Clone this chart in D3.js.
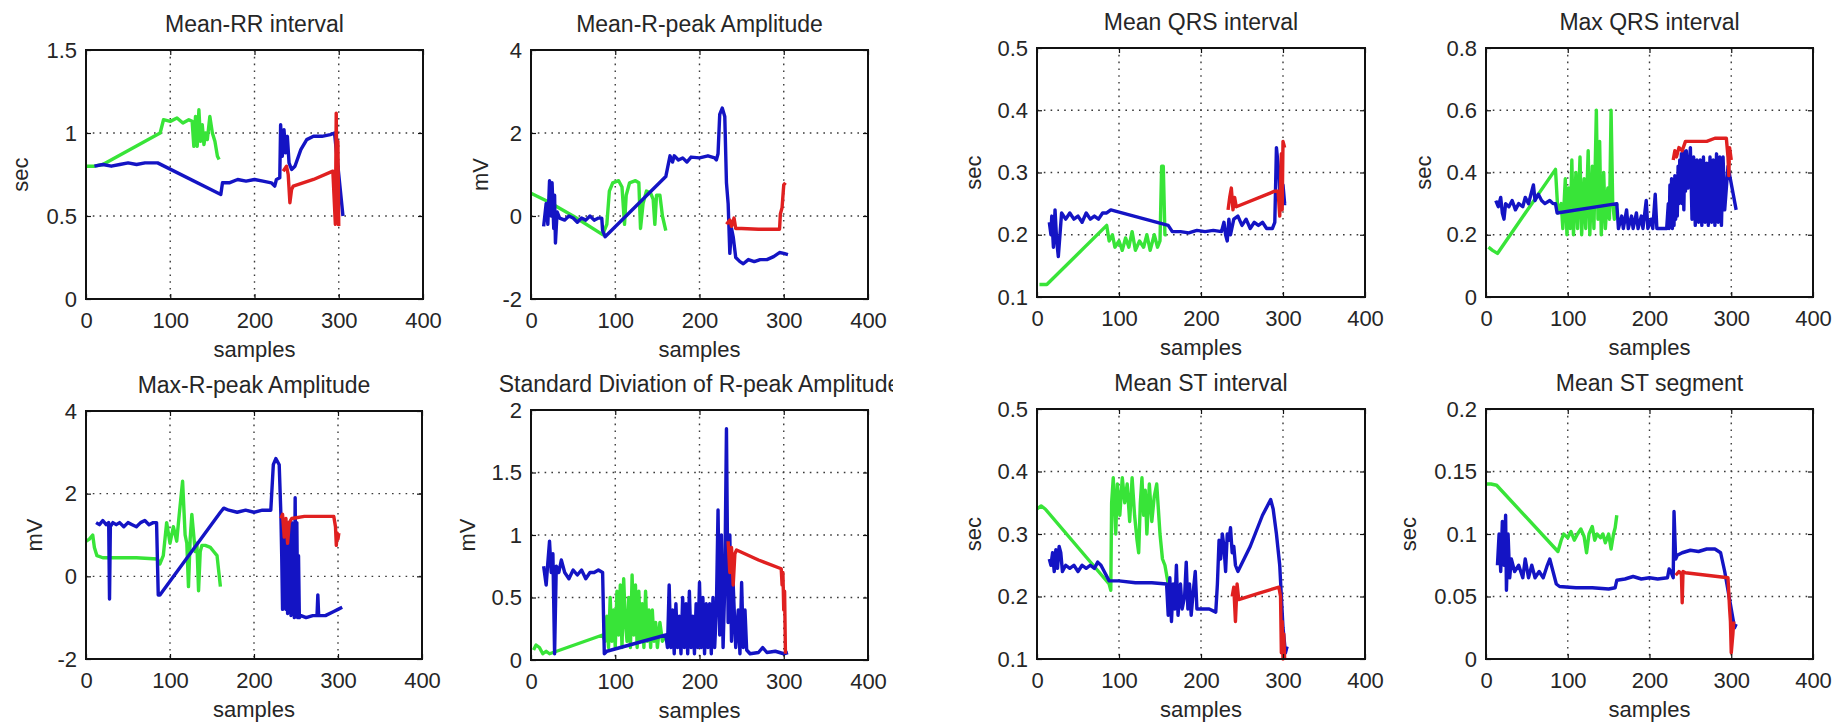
<!DOCTYPE html>
<html lang="en">
<head>
<meta charset="UTF-8">
<script src="https://d3js.org/d3.v7.min.js"></script>
<title>ECG features</title>
<style>
    body { margin: 0; background: #fff; }
    svg text { font-family: Arial, "Liberation Sans", sans-serif; fill: #262626; }
    .frame { fill: none; stroke: #111; stroke-width: 2; }
    .grid line { stroke: #3a3a3a; stroke-width: 1.4; stroke-dasharray: 1.6, 5.2; }
    .series { fill: none; stroke-width: 3.4; stroke-linejoin: round; }
    .tick line { stroke: #111; stroke-width: 1.2; }
</style>
</head>
<body>
<svg id="chart" width="1841" height="722"></svg>
<script>
// x axis is the same everywhere
var xTicks = [0, 100, 200, 300, 400];

// ---- Mean-RR interval (sec)
var rrTicks = [0, 0.5, 1, 1.5];
var rrGreen = [[0,0.80],[10,0.80],[20,0.81],[88,1.0],[92,1.08],[100,1.07],[108,1.09],[115,1.06],[122,1.08],[126,1.07],[128,0.92],[130,1.10],[132,0.92],[134,1.14],[136,0.95],[138,1.05],[140,0.93],[142,1.0],[144,0.96],[147,1.10],[150,1.0],[153,0.95],[156,0.86],[158,0.84]];
var rrBlue = [[10,0.80],[20,0.81],[30,0.80],[40,0.81],[50,0.82],[60,0.81],[70,0.82],[85,0.82],[160,0.63],[162,0.70],[170,0.70],[180,0.72],[190,0.71],[200,0.72],[210,0.71],[220,0.70],[224,0.68],[226,0.72],[230,0.73],[231,1.05],[233,0.86],[235,1.02],[237,0.88],[239,0.98],[241,0.82],[244,0.78],[248,0.80],[255,0.90],[262,0.96],[270,0.98],[280,0.98],[290,0.99],[295,1.0],[300,0.75],[305,0.5]];
var rrRed = [[234,0.77],[238,0.80],[240,0.75],[242,0.58],[244,0.66],[246,0.68],[270,0.72],[293,0.77],[296,0.45],[297,1.12],[298,0.6],[299,0.95],[300,0.44]];

// ---- Mean-R-peak Amplitude (mV)
var ampTicks = [-2, 0, 2, 4];
var meanAmpGreen = [[0,0.55],[20,0.35],[50,0.0],[85,-0.45],[90,-0.2],[93,0.6],[97,0.8],[104,0.85],[108,0.7],[111,-0.2],[113,0.5],[117,0.8],[124,0.85],[128,0.8],[130,-0.3],[133,0.3],[137,0.6],[142,0.55],[145,0.4],[147,-0.2],[149,0.5],[153,0.5],[156,0.0],[160,-0.35]];
var meanAmpBlue = [[15,-0.25],[18,0.3],[20,-0.2],[22,0.85],[24,0.0],[25,0.8],[27,-0.3],[28,0.5],[29,-0.65],[31,0.1],[34,-0.05],[40,-0.1],[45,0.0],[50,-0.05],[55,-0.15],[60,-0.05],[65,-0.1],[70,0.0],[75,-0.1],[80,-0.05],[84,-0.05],[85,-0.35],[88,-0.5],[160,0.95],[163,1.25],[165,1.45],[168,1.30],[170,1.45],[175,1.35],[180,1.40],[185,1.30],[190,1.42],[200,1.40],[210,1.45],[218,1.40],[220,1.35],[222,1.50],[224,2.45],[227,2.6],[230,2.4],[232,0.8],[234,0.3],[236,-0.9],[238,-0.3],[240,-0.5],[243,-1.0],[248,-1.1],[252,-1.15],[258,-1.05],[265,-1.10],[272,-1.05],[280,-1.05],[288,-0.98],[295,-0.88],[300,-0.90],[305,-0.93]];
var meanAmpRed = [[232,-0.2],[236,-0.1],[238,-0.25],[241,-0.05],[243,-0.3],[250,-0.3],[270,-0.32],[290,-0.32],[295,-0.32],[296,0.05],[298,0.2],[300,0.75],[302,0.8]];

// ---- Mean QRS interval (sec)
var qrsTicks = [0.1, 0.2, 0.3, 0.4, 0.5];
var qrsGreen = [[3,0.12],[8,0.12],[12,0.12],[85,0.215],[88,0.19],[92,0.2],[95,0.18],[100,0.19],[104,0.175],[108,0.195],[112,0.18],[116,0.205],[120,0.175],[125,0.19],[130,0.18],[134,0.2],[138,0.175],[143,0.2],[147,0.18],[150,0.19],[152,0.31],[154,0.31],[156,0.2],[158,0.2]];
var qrsBlue = [[15,0.22],[17,0.2],[18,0.23],[20,0.18],[22,0.24],[24,0.19],[26,0.165],[28,0.2],[30,0.235],[35,0.225],[40,0.235],[45,0.225],[50,0.23],[55,0.22],[60,0.235],[65,0.225],[70,0.23],[75,0.225],[80,0.235],[85,0.235],[90,0.24],[160,0.215],[165,0.205],[175,0.205],[185,0.203],[195,0.207],[205,0.205],[215,0.207],[225,0.205],[228,0.22],[230,0.2],[232,0.19],[234,0.225],[236,0.2],[240,0.225],[245,0.23],[250,0.215],[255,0.225],[260,0.21],[265,0.22],[270,0.215],[275,0.22],[280,0.21],[287,0.21],[290,0.22],[292,0.34],[295,0.3],[297,0.24],[300,0.28],[302,0.25],[304,0.25]];
var qrsRed = [[233,0.24],[235,0.26],[237,0.275],[239,0.24],[241,0.26],[243,0.245],[290,0.27],[294,0.27],[296,0.23],[298,0.33],[299,0.24],[300,0.35],[302,0.34]];

// ---- Max QRS interval (sec)
var qrsMaxTicks = [0, 0.2, 0.4, 0.6, 0.8];
var qrsMaxGreen = [[3,0.16],[8,0.15],[14,0.14],[85,0.41],[88,0.27],[92,0.3],[94,0.22],[97,0.38],[99,0.2],[101,0.35],[103,0.22],[105,0.44],[107,0.2],[110,0.4],[112,0.22],[115,0.45],[117,0.2],[120,0.38],[122,0.22],[125,0.47],[127,0.2],[130,0.42],[132,0.22],[135,0.6],[137,0.25],[139,0.5],[141,0.2],[144,0.4],[146,0.22],[149,0.35],[151,0.25],[153,0.6],[155,0.3],[157,0.25],[160,0.3]];
var qrsMaxBlue = [[12,0.31],[15,0.29],[18,0.32],[20,0.27],[22,0.25],[24,0.3],[28,0.29],[32,0.31],[36,0.28],[40,0.3],[45,0.29],[48,0.32],[52,0.3],[55,0.33],[58,0.36],[60,0.31],[64,0.33],[68,0.31],[72,0.3],[78,0.31],[82,0.3],[85,0.3],[87,0.27],[160,0.3],[162,0.22],[166,0.26],[168,0.22],[172,0.28],[174,0.22],[178,0.26],[180,0.22],[184,0.27],[186,0.22],[190,0.26],[192,0.22],[196,0.31],[198,0.22],[202,0.25],[204,0.22],[207,0.33],[209,0.22],[215,0.22],[221,0.22],[223,0.3],[224,0.22],[225,0.36],[226,0.24],[227,0.38],[228,0.22],[229,0.37],[230,0.23],[231,0.39],[232,0.25],[233,0.38],[234,0.26],[235,0.42],[236,0.3],[237,0.44],[238,0.33],[239,0.46],[240,0.3],[241,0.47],[242,0.28],[243,0.44],[244,0.34],[245,0.47],[247,0.35],[250,0.48],[252,0.25],[254,0.45],[256,0.23],[258,0.44],[260,0.24],[262,0.44],[264,0.23],[266,0.45],[268,0.24],[270,0.43],[272,0.23],[274,0.45],[276,0.24],[278,0.44],[280,0.23],[282,0.46],[284,0.24],[286,0.45],[288,0.23],[290,0.45],[292,0.28],[296,0.42],[306,0.28]];
var qrsMaxRed = [[229,0.44],[231,0.47],[233,0.45],[236,0.48],[240,0.47],[244,0.5],[250,0.5],[260,0.5],[270,0.5],[280,0.51],[290,0.51],[294,0.51],[296,0.45],[297,0.39],[298,0.48],[300,0.44]];

// ---- Max-R-peak Amplitude (mV)
var maxAmpGreen = [[0,0.85],[4,0.9],[8,1.0],[10,0.7],[13,0.5],[20,0.45],[40,0.45],[60,0.45],[85,0.42],[88,0.3],[92,0.5],[96,1.3],[100,0.8],[104,1.2],[108,0.85],[111,1.5],[115,2.3],[118,1.0],[120,0.8],[122,-0.25],[124,0.9],[126,1.5],[130,0.6],[132,0.8],[134,-0.35],[136,0.6],[138,0.75],[142,0.75],[148,0.7],[152,0.6],[156,0.5],[160,-0.25]];
var maxAmpBlue = [[12,1.3],[16,1.25],[20,1.35],[24,1.25],[27,1.3],[28,-0.55],[29,1.2],[32,1.3],[36,1.25],[40,1.3],[45,1.2],[50,1.3],[55,1.25],[60,1.2],[65,1.3],[70,1.35],[75,1.25],[80,1.3],[84,1.3],[86,-0.45],[88,-0.45],[160,1.55],[164,1.65],[170,1.6],[180,1.55],[190,1.6],[200,1.55],[210,1.6],[220,1.6],[223,2.7],[226,2.85],[230,2.7],[232,1.5],[233,0.5],[234,-0.8],[235,1.3],[236,-0.6],[237,1.2],[238,-0.8],[239,1.0],[240,-0.9],[241,1.3],[242,-0.7],[243,1.1],[244,-0.95],[245,1.3],[246,-0.9],[247,1.0],[248,-1.0],[249,1.9],[250,-0.9],[251,1.3],[252,-1.0],[253,0.5],[254,-1.0],[256,-0.95],[262,-1.0],[270,-0.95],[275,-0.95],[276,-0.45],[277,-0.95],[285,-0.95],[295,-0.85],[300,-0.8],[305,-0.75]];
var maxAmpRed = [[232,1.4],[234,1.5],[236,0.95],[238,1.4],[240,0.8],[242,1.3],[245,1.4],[260,1.45],[280,1.45],[295,1.45],[297,1.2],[298,0.75],[299,1.05],[300,0.9],[301,1.05]];

// ---- Standard deviation of R-peak Amplitude (mV)
var sdTicks = [0, 0.5, 1, 1.5, 2];
var sdGreen = [[3,0.08],[6,0.12],[10,0.1],[14,0.05],[18,0.07],[22,0.05],[85,0.2],[88,0.15],[90,0.35],[92,0.1],[94,0.5],[96,0.15],[98,0.4],[100,0.1],[102,0.55],[104,0.2],[106,0.6],[108,0.1],[110,0.65],[112,0.3],[114,0.15],[116,0.5],[118,0.1],[120,0.68],[122,0.2],[124,0.6],[126,0.1],[128,0.55],[130,0.15],[132,0.45],[134,0.1],[136,0.55],[138,0.15],[140,0.4],[142,0.1],[144,0.4],[146,0.15],[148,0.3],[150,0.1],[153,0.3],[156,0.15],[160,0.2]];
var sdBlue = [[15,0.75],[18,0.6],[20,0.78],[22,0.95],[24,0.7],[26,0.85],[28,0.05],[30,0.75],[33,0.7],[36,0.8],[40,0.7],[45,0.65],[50,0.72],[55,0.68],[60,0.72],[65,0.65],[70,0.7],[75,0.7],[80,0.72],[85,0.7],[87,0.05],[90,0.07],[160,0.2],[162,0.1],[164,0.6],[166,0.1],[168,0.4],[170,0.05],[172,0.45],[174,0.1],[176,0.35],[178,0.05],[180,0.5],[182,0.1],[184,0.45],[186,0.05],[188,0.55],[190,0.1],[192,0.35],[194,0.05],[196,0.45],[198,0.1],[200,0.62],[202,0.1],[204,0.5],[206,0.05],[208,0.45],[210,0.1],[212,0.45],[214,0.05],[216,0.5],[218,0.1],[220,0.4],[222,1.2],[224,0.2],[226,1.0],[228,0.1],[230,0.6],[232,1.85],[234,0.3],[236,1.0],[238,0.15],[240,0.6],[243,0.1],[246,0.4],[248,0.05],[250,0.62],[252,0.1],[254,0.4],[256,0.08],[260,0.05],[270,0.06],[275,0.1],[280,0.06],[290,0.07],[300,0.05],[305,0.06]];
var sdRed = [[234,0.95],[236,0.7],[238,0.9],[240,0.6],[242,0.85],[244,0.88],[270,0.8],[297,0.73],[298,0.6],[299,0.7],[300,0.4],[301,0.55],[302,0.05]];

// ---- Mean ST interval (sec)
var stIntGreen = [[0,0.34],[5,0.345],[10,0.34],[88,0.22],[90,0.21],[91,0.35],[93,0.39],[96,0.3],[98,0.38],[101,0.33],[104,0.39],[107,0.35],[110,0.38],[113,0.32],[116,0.39],[119,0.33],[122,0.29],[124,0.27],[126,0.35],[128,0.39],[130,0.33],[132,0.37],[134,0.3],[137,0.38],[140,0.32],[143,0.36],[146,0.38],[150,0.3],[153,0.26],[156,0.25],[160,0.22]];
var stIntBlue = [[15,0.26],[17,0.25],[19,0.27],[21,0.24],[23,0.275],[25,0.245],[27,0.28],[29,0.27],[31,0.24],[35,0.25],[40,0.245],[45,0.25],[50,0.24],[55,0.25],[60,0.245],[65,0.25],[70,0.245],[74,0.255],[78,0.25],[82,0.24],[88,0.225],[100,0.225],[120,0.222],[140,0.222],[158,0.22],[160,0.17],[162,0.23],[164,0.16],[166,0.22],[168,0.18],[170,0.25],[172,0.17],[175,0.22],[177,0.18],[180,0.2],[182,0.255],[184,0.18],[186,0.22],[188,0.17],[190,0.2],[193,0.24],[195,0.18],[200,0.18],[210,0.18],[218,0.175],[220,0.22],[222,0.29],[224,0.26],[226,0.3],[228,0.28],[230,0.24],[232,0.3],[234,0.29],[236,0.31],[238,0.27],[240,0.28],[242,0.25],[245,0.24],[260,0.28],[275,0.33],[285,0.355],[288,0.34],[292,0.3],[296,0.25],[300,0.15],[303,0.11],[305,0.12]];
var stIntRed = [[238,0.2],[240,0.215],[242,0.16],[244,0.22],[246,0.195],[270,0.205],[295,0.215],[297,0.2],[298,0.11],[299,0.16],[300,0.1],[301,0.14],[302,0.1]];

// ---- Mean ST segment (sec)
var stSegTicks = [0, 0.05, 0.1, 0.15, 0.2];
var stSegGreen = [[0,0.14],[6,0.14],[13,0.139],[88,0.086],[92,0.095],[95,0.1],[100,0.097],[104,0.102],[108,0.095],[112,0.1],[116,0.104],[120,0.098],[123,0.085],[126,0.1],[130,0.106],[133,0.095],[136,0.1],[140,0.097],[143,0.1],[146,0.093],[150,0.1],[153,0.088],[156,0.1],[158,0.105],[160,0.115]];
var stSegBlue = [[14,0.075],[16,0.1],[18,0.07],[20,0.11],[22,0.075],[24,0.115],[25,0.055],[27,0.1],[29,0.065],[31,0.08],[35,0.07],[40,0.075],[45,0.065],[48,0.08],[52,0.065],[56,0.075],[60,0.065],[65,0.07],[70,0.065],[75,0.075],[78,0.08],[82,0.07],[86,0.06],[90,0.058],[110,0.057],[130,0.057],[150,0.056],[158,0.057],[160,0.063],[170,0.064],[180,0.066],[190,0.064],[200,0.065],[210,0.064],[222,0.065],[224,0.072],[226,0.07],[229,0.065],[230,0.118],[232,0.08],[234,0.083],[240,0.085],[250,0.087],[260,0.086],[270,0.088],[280,0.088],[287,0.085],[292,0.07],[296,0.055],[300,0.04],[304,0.025],[306,0.028]];
var stSegRed = [[232,0.067],[236,0.07],[239,0.068],[240,0.045],[241,0.07],[244,0.069],[270,0.067],[296,0.065],[298,0.04],[299,0.03],[300,0.005],[302,0.02],[303,0.03]];

var seriesColors = ["#38e438", "#1414c4", "#e02020"];

// layout of the eight subplots (the left figure is cut at x = 893)
var panels = [
    { fig: "left",  title: "Mean-RR interval", yLabel: "sec", yTicks: rrTicks, series: [rrGreen, rrBlue, rrRed], l: 86, t: 50, r: 423, b: 299, labX: 20 },
    { fig: "left",  title: "Mean-R-peak Amplitude", yLabel: "mV", yTicks: ampTicks, series: [meanAmpGreen, meanAmpBlue, meanAmpRed], l: 531, t: 50, r: 868, b: 299, labX: 480 },
    { fig: "right", title: "Mean QRS interval", yLabel: "sec", yTicks: qrsTicks, series: [qrsGreen, qrsBlue, qrsRed], l: 1037, t: 48, r: 1365, b: 297, labX: 973 },
    { fig: "right", title: "Max QRS interval", yLabel: "sec", yTicks: qrsMaxTicks, series: [qrsMaxGreen, qrsMaxBlue, qrsMaxRed], l: 1486, t: 48, r: 1813, b: 297, labX: 1423 },
    { fig: "left",  title: "Max-R-peak Amplitude", yLabel: "mV", yTicks: ampTicks, series: [maxAmpGreen, maxAmpBlue, maxAmpRed], l: 86, t: 411, r: 422, b: 659, labX: 34 },
    { fig: "left",  title: "Standard Diviation of R-peak Amplitude", yLabel: "mV", yTicks: sdTicks, series: [sdGreen, sdBlue, sdRed], l: 531, t: 410, r: 868, b: 660, labX: 467 },
    { fig: "right", title: "Mean ST interval", yLabel: "sec", yTicks: qrsTicks, series: [stIntGreen, stIntBlue, stIntRed], l: 1037, t: 409, r: 1365, b: 659, labX: 973 },
    { fig: "right", title: "Mean ST segment", yLabel: "sec", yTicks: stSegTicks, series: [stSegGreen, stSegBlue, stSegRed], l: 1486, t: 409, r: 1813, b: 659, labX: 1408 }
];

var svg = d3.select("#chart");

svg.append("defs").append("clipPath").attr("id", "leftClip")
    .append("rect").attr("x", 0).attr("y", 0).attr("width", 893).attr("height", 722);

var figs = {
    left: svg.append("g").attr("clip-path", "url(#leftClip)"),
    right: svg.append("g")
};

function styleText(sel) {
    sel.selectAll("text").style("font-size", "22px").style("font-family", "Arial, 'Liberation Sans', sans-serif").attr("fill", "#262626");
    sel.select(".domain").remove();
}

panels.forEach(function (p) {
    var g = figs[p.fig].append("g");
    var yDom = d3.extent(p.yTicks);

    var x = d3.scaleLinear().domain([0, 400]).range([p.l, p.r]);
    var y = d3.scaleLinear().domain(yDom).range([p.b, p.t]);

    // dotted grid
    var grid = g.append("g").attr("class", "grid");
    grid.selectAll(".gx").data(xTicks.slice(1, -1)).enter().append("line")
        .attr("x1", function (d) { return x(d); }).attr("x2", function (d) { return x(d); })
        .attr("y1", p.t).attr("y2", p.b);
    grid.selectAll(".gy").data(p.yTicks.slice(1, -1)).enter().append("line")
        .attr("y1", function (d) { return y(d); }).attr("y2", function (d) { return y(d); })
        .attr("x1", p.l).attr("x2", p.r);

    // data: green, blue, red
    var line = d3.line()
        .x(function (d) { return x(d[0]); })
        .y(function (d) { return y(d[1]); });
    p.series.forEach(function (s, i) {
        g.append("path").attr("class", "series")
            .attr("stroke", seriesColors[i])
            .attr("d", line(s));
    });

    // axes, ticks pointing inwards
    g.append("g").attr("transform", "translate(0," + p.b + ")")
        .call(d3.axisBottom(x).tickValues(xTicks).tickSizeInner(-5).tickSizeOuter(0).tickPadding(13).tickFormat(String))
        .call(styleText);
    g.append("g").attr("transform", "translate(" + p.l + ",0)")
        .call(d3.axisLeft(y).tickValues(p.yTicks).tickSizeInner(-5).tickSizeOuter(0).tickPadding(9).tickFormat(String))
        .call(styleText);
    g.append("g").attr("transform", "translate(0," + p.t + ")")
        .call(d3.axisTop(x).tickValues(xTicks).tickSizeInner(-5).tickSizeOuter(0).tickFormat(""))
        .call(styleText);
    g.append("g").attr("transform", "translate(" + p.r + ",0)")
        .call(d3.axisRight(y).tickValues(p.yTicks).tickSizeInner(-5).tickSizeOuter(0).tickFormat(""))
        .call(styleText);

    g.append("rect").attr("class", "frame")
        .attr("x", p.l).attr("y", p.t)
        .attr("width", p.r - p.l).attr("height", p.b - p.t);

    // labels
    g.append("text")
        .attr("x", (p.l + p.r) / 2).attr("y", p.t - 18)
        .attr("text-anchor", "middle").style("font-size", "23px")
        .text(p.title);
    g.append("text")
        .attr("x", (p.l + p.r) / 2).attr("y", p.b + 58)
        .attr("text-anchor", "middle").style("font-size", "22px")
        .text("samples");
    g.append("text")
        .attr("transform", "translate(" + p.labX + "," + (p.t + p.b) / 2 + ") rotate(-90)")
        .attr("dy", "0.35em")
        .attr("text-anchor", "middle").style("font-size", "22px")
        .text(p.yLabel);
});
</script>
</body>
</html>
